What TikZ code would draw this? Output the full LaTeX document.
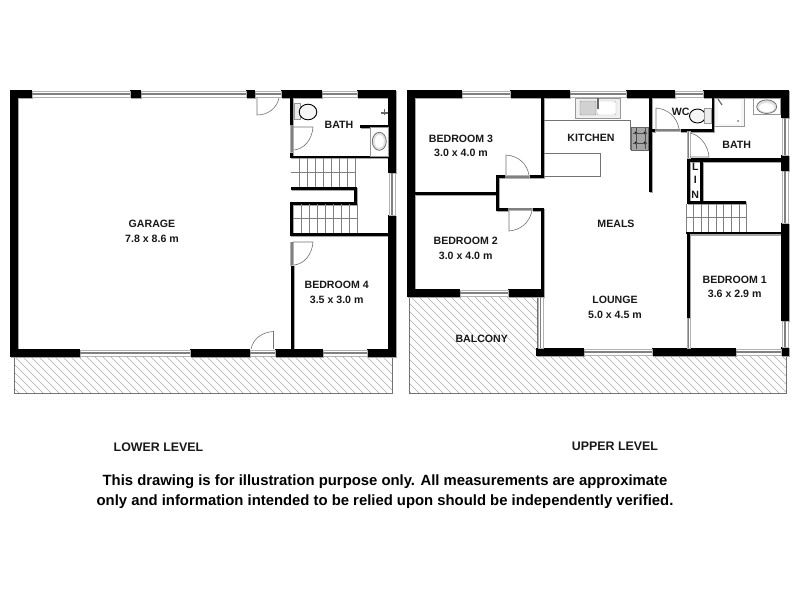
\documentclass[tikz,border=0pt]{standalone}
\usepackage{fontspec}
\setmainfont{Liberation Sans}
\definecolor{wingray}{gray}{0.5}
\definecolor{hatchgray}{gray}{0.68}
\definecolor{fixgray}{gray}{0.6}
\tikzset{
  lbl/.style={font=\fontsize{10.6}{12}\selectfont\bfseries,inner sep=0pt,text=black!90},
  lvl/.style={font=\fontsize{12.4}{14}\selectfont\bfseries,inner sep=0pt,text=black!90},
  foot/.style={font=\fontsize{14.85}{18}\selectfont\bfseries,inner sep=0pt,text=black},
  thin line/.style={draw=black!55,line width=0.6pt},
  fixture/.style={draw=fixgray,line width=0.6pt,fill=white},
  treads/.style={draw=black!50,line width=0.5pt},
  hatchline/.style={draw=hatchgray,line width=0.45pt},
  hatchedge/.style={draw=black!55,line width=0.6pt}
}
\newcommand\wl[4]{\fill (#1,#2) rectangle (#3,#4);}
% horizontal window x1 x2 y1 y2
\newcommand\hwin[4]{%
  \fill[white] (#1,#3) rectangle (#2,#4);
  \draw[wingray!60,line width=0.5pt] (#1,#3) rectangle (#2,#4);
  \draw[wingray,line width=1.6pt] (#1,{(#3+#4)/2}) -- (#2,{(#3+#4)/2});}
\newcommand\vwin[4]{%
  \fill[white] (#3,#1) rectangle (#4,#2);
  \draw[wingray!60,line width=0.5pt] (#3,#1) rectangle (#4,#2);
  \draw[wingray,line width=1.6pt] ({(#3+#4)/2},#1) -- ({(#3+#4)/2},#2);}
\newcommand\allwalls{%
  % lower level
  \wl{10}{90}{32}{98}\wl{130}{90}{141}{98}\wl{246}{90}{255}{98}\wl{281}{90}{322}{98}\wl{357}{90}{396}{98}
  \wl{10}{90}{18}{357}\wl{388}{90}{396}{173}\wl{388}{215}{396}{357}
  \wl{10}{349}{80}{357}\wl{190}{349}{250}{357}\wl{275}{349}{323}{357}\wl{367}{349}{396}{357}
  \wl{290}{90}{293}{125}\wl{290}{152}{293}{158}\wl{290}{155.5}{388}{158}
  \wl{291}{187}{357}{190}\wl{354}{187}{357}{204}\wl{290}{202}{357}{204.5}
  \wl{290}{202}{293}{236}\wl{290}{233}{388}{236}\wl{291}{265}{293.5}{349}
  \wl{360}{124.5}{388}{127.5}
  % upper level
  \wl{407}{90}{462}{98}\wl{510}{90}{570}{98}\wl{626}{90}{675}{98}\wl{703}{90}{788}{98}
  \wl{407}{90}{415}{297}\wl{407}{289}{460}{297}\wl{508}{289}{544}{297}
  \wl{781}{90}{789}{118}\wl{781}{155}{789}{171}\wl{781}{223}{789}{321}\wl{781}{347}{789}{356}
  \wl{536}{348}{584}{356}\wl{652}{348}{736}{356}
  \wl{541}{90}{544}{178}\wl{496}{175}{505}{178}\wl{529}{175}{544}{178}
  \wl{496}{175}{499}{210.5}\wl{415}{191.7}{496}{195}
  \wl{496}{207.7}{508}{210.5}\wl{532}{207.7}{544}{210.5}\wl{541}{207.7}{544}{297}
  \wl{649}{98}{651.5}{191.7}\wl{649}{128.5}{655}{131.5}\wl{680}{128.5}{714}{131.5}\wl{711.5}{98}{714}{131.5}
  \wl{687}{158.3}{781}{161.7}\wl{687}{158.3}{690}{204}\wl{700}{158.3}{703}{204}
  \wl{687}{200.7}{746}{204}\wl{686}{231.7}{781}{234.3}\wl{686.5}{231.7}{690}{318}
}
\begin{document}
\begin{tikzpicture}[x=1pt,y=-1pt]
\useasboundingbox (0,0) rectangle (800,600);
\fill[white] (0,0) rectangle (800,600);
% hatched terraces
\begin{scope}
  \clip (14,357) rectangle (392,393);
  \foreach \i in {-10,...,55} {\draw[hatchline] ({\i*8},350) -- ({\i*8+50},400);}
\end{scope}
\draw[hatchedge] (14,357) -- (14,393) -- (392,393) -- (392,357);
\begin{scope}
  \clip (409,297) -- (537,297) -- (537,356) -- (786,356) -- (786,393) -- (409,393) -- cycle;
  \foreach \i in {-5,...,55} {\draw[hatchline] ({300+\i*8},290) -- ({300+\i*8+110},400);}
\end{scope}
\draw[hatchedge] (409,297) -- (409,393) -- (786,393) -- (786,356);
\draw[hatchedge] (537,297) -- (537,348);
% wall shadows
\begin{scope}[black!35,xshift=1.3pt,yshift=-1.3pt]
  \allwalls
\end{scope}
\begin{scope}[black]
  \allwalls
\end{scope}
% lower windows
\hwin{32}{130}{91}{97}\hwin{141}{246}{91}{97}\hwin{255}{281}{91}{97}\hwin{322}{357}{91}{97}
\vwin{173}{215}{389}{395}
\hwin{80}{190}{350}{356}\hwin{250}{275}{350}{356}\hwin{323}{367}{350}{356}
\vwin{125}{152}{290.5}{293}\vwin{242}{265}{290.5}{293}
% upper windows
\hwin{462}{510}{91}{97}\hwin{570}{626}{91}{97}\hwin{675}{703}{91}{97}
\vwin{118}{155}{782}{788}\vwin{171}{223}{782}{788}\vwin{321}{347}{782}{788}
\hwin{460}{508}{290}{296}\hwin{584}{652}{349}{355}\hwin{736}{781}{349}{355}
\vwin{297}{348}{538}{543}
\hwin{505}{529}{175.5}{178}\hwin{508}{532}{208}{210.5}\hwin{655}{680}{129}{131.5}
\vwin{131}{158}{687}{690}\vwin{318}{348}{687}{690}
% door swings
\draw[thin line] (257,98) -- (257,115) .. controls (268,115) and (277,108) .. (279,98);
\draw[thin line] (293,127) -- (313,127) .. controls (312,140) and (304,149) .. (294,150);
\draw[thin line] (293,242) -- (313,242) .. controls (312,255) and (304,264) .. (294,265);
\draw[thin line] (273.5,349) -- (273.5,331.5) .. controls (262,332) and (253,339) .. (251,349);
\draw[thin line] (506,175) -- (506,155) .. controls (519,156) and (527,164) .. (529,175);
\draw[thin line] (509,210.5) -- (509,231) .. controls (521,230) and (530,222) .. (532,210.5);
\draw[thin line] (656,129) -- (656,108) .. controls (668,109) and (677,117) .. (679,129);
\draw[thin line] (690,157) -- (709,157) .. controls (708,145) and (700,135) .. (690,133);
% stairs lower
\foreach \x in {299,307,315,323,331,339,347,355} {\draw[treads] (\x,158) -- (\x,187);}
\draw[treads] (291,172.7) -- (355,172.7);
\foreach \x in {301,309,317,325,333,341,349,357} {\draw[treads] (\x,204) -- (\x,233);}
\draw[treads] (293,218) -- (357,218);
% stairs upper
\foreach \x in {686,693.7,701.3,708.7,716,723.7,731.3,739,746.7} {\draw[treads] (\x,204) -- (\x,232);}
\draw[treads] (686,217) -- (747,217);
% lower bath fixtures
\draw[fixture,fill=black!8] (294,103) rectangle (300.7,119);
\draw[black,line width=0.9pt,fill=black!4] (308,112) ellipse (8.8 and 7.8);
\draw[fixture] (370.7,127.7) rectangle (388,156);
\draw[black!60,line width=0.7pt,fill=black!12] (379.3,141.3) ellipse (7 and 9);
\fill[white] (379.3,141.3) ellipse (4.5 and 6.5);
\draw[black!60,line width=1.2pt] (381,113) -- (388,113) (384.5,109) -- (384.5,115);
% kitchen
\draw[thin line] (544,120) -- (630.7,120) -- (630.7,150);
\draw[thin line] (544,153) -- (600.7,153) -- (600.7,176.7) -- (544,176.7);
\draw[fixture,fill=black!6] (575,98) rectangle (620,118);
\draw[draw=black!45,fill=black!18,rounded corners=1pt] (580,101) rectangle (596,115);
\draw[draw=black!30,fill=white,rounded corners=2pt] (597,101) rectangle (616,115);
\draw[black!60,line width=1.2pt] (598,98) -- (598,109);
\draw[draw=black!60,fill=black!35,line width=0.6pt] (631,127) rectangle (648,150);
\foreach \x/\y in {636/133,645/133,636/143,645/143} {\fill[black] (\x,\y) circle (1.7);}
\draw[black!70,line width=0.4pt] (633,133) -- (647,133) (633,143) -- (647,143) (636,128) -- (636,149) (645,128) -- (645,149);
% WC and upper bath fixtures
\draw[black,line width=0.9pt,fill=black!4] (697.5,116) ellipse (8 and 7);
\draw[fixture,fill=black!8] (704,108) rectangle (711,123);
\draw[fixture,fill=black!4] (714,98) rectangle (744,126.7);
\fill[white] (718,100) rectangle (741,124);
\fill[black!55] (738,121) circle (1);
\draw[black!60,line width=1.2pt] (718,99) -- (722,105);
\draw[fixture] (753,98) rectangle (780,114);
\draw[black!60,line width=0.7pt,fill=black!12] (766.7,106.7) ellipse (10 and 6.8);
\fill[white] (766.7,107.5) ellipse (7.5 and 4.5);
% labels
\node[lbl] (garage) at (152,223.5) {GARAGE};
\node[lbl] (garaged) at (152,238.5) {7.8 x 8.6 m};
\node[lbl] (bathl) at (339,125) {BATH};
\node[lbl] (bed4) at (336.7,284.5) {BEDROOM 4};
\node[lbl] (bed4d) at (336.7,299.5) {3.5 x 3.0 m};
\node[lbl] (bed3) at (461,138.5) {BEDROOM 3};
\node[lbl] (bed3d) at (461,153) {3.0 x 4.0 m};
\node[lbl] (bed2) at (465.7,240.5) {BEDROOM 2};
\node[lbl] (bed2d) at (465.7,255.5) {3.0 x 4.0 m};
\node[lbl] (kitchen) at (591,138) {KITCHEN};
\node[lbl] (wc) at (680.7,112) {WC};
\node[lbl] (bathu) at (736.7,144.5) {BATH};
\node[lbl] (linl) at (695.3,166.7) {L};
\node[lbl] (lini) at (695.3,180) {I};
\node[lbl] (linn) at (695.3,195) {N};
\node[lbl] (meals) at (616,223.5) {MEALS};
\node[lbl] (lounge) at (615,299.5) {LOUNGE};
\node[lbl] (lounged) at (615,314.5) {5.0 x 4.5 m};
\node[lbl] (bed1) at (734.7,279.5) {BEDROOM 1};
\node[lbl] (bed1d) at (734.7,294) {3.6 x 2.9 m};
\node[lbl] (balcony) at (481.7,338.8) {BALCONY};
\node[lvl] (lower) at (158.5,447) {LOWER LEVEL};
\node[lvl] (upper) at (615,446) {UPPER LEVEL};
\node[foot] (foot1) at (385,481.5) {This drawing is for illustration purpose only. All measurements are approximate};
\node[foot] (foot2) at (385,501.5) {only and information intended to be relied upon should be independently verified.};
\end{tikzpicture}
\end{document}
